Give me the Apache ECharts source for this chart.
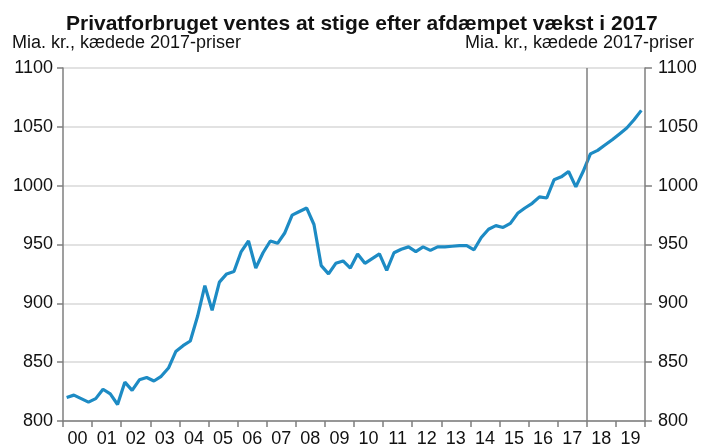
<!DOCTYPE html>
<html>
<head>
<meta charset="utf-8">
<script src="https://cdn.jsdelivr.net/npm/echarts@6/dist/echarts.min.js"></script>
<style>
  html, body { margin: 0; padding: 0; background: #fff; }
  #chart { width: 701px; height: 448px; }
</style>
</head>
<body>
<div id="chart"></div>
<script>
// aar (x-akse labels)
const years = ['00','01','02','03','04','05','06','07','08','09','10','11','12','13','14','15','16','17','18','19']

// privatforbrug pr. kvartal, mia. kr. (2000K1 - 2019K4), 4 tal pr. aar
const forbrug2000_2004 = [820, 822, 819, 816,  819, 827, 823, 814,  833, 826, 835, 837,  834, 838, 845, 859,  864, 868, 889, 915]
const forbrug2005_2009 = [894, 918, 925, 927,  944, 953, 930, 943,  953, 951, 960, 975,  978, 981, 967, 932,  925, 934, 936, 930]
const forbrug2010_2014 = [942, 934, 938, 942,  928, 943, 946, 948,  944, 948, 945, 948,  948, 948.5, 949, 949,  945.5, 956, 963, 966]
const forbrug2015_2019 = [964.5, 968, 976.5, 981,  985, 990.5, 989.5, 1005,  1007.5, 1012, 999, 1012,  1027, 1030, 1034.5, 1039,  1044, 1049, 1056, 1064]

const yTicks = [800, 850, 900, 950, 1000, 1050, 1100]
const prognoseStart = 18 // lodret streg ved 2018

const unitText = 'Mia. kr., kædede 2017-priser'
const titleText = 'Privatforbruget ventes at stige efter afdæmpet vækst i 2017'

const forbrug = forbrug2000_2004.concat(forbrug2005_2009, forbrug2010_2014, forbrug2015_2019)

// kvartal i placeres midt i sit kvartal paa aars-aksen
let seriesData = forbrug.map((v, i) => [Math.floor(i / 4) + ((i % 4) + 0.5) / 4, v])

const axisGray = '#7f7f7f'
const font = 'Liberation Sans, Arial, sans-serif'

let chart = echarts.init(document.getElementById('chart'), null, { renderer: 'canvas' })

let option = {
  animation: false,
  textStyle: { fontFamily: font },
  title: [
    {
      text: titleText,
      left: 61,
      top: 9,
      textStyle: { fontSize: 21, fontWeight: 'bold', color: '#111', fontFamily: font }
    },
    {
      text: unitText,
      left: 7,
      top: 29,
      textStyle: { fontSize: 18, fontWeight: 'normal', color: '#111', fontFamily: font }
    },
    {
      text: unitText,
      right: 2,
      top: 29,
      textStyle: { fontSize: 18, fontWeight: 'normal', color: '#111', fontFamily: font }
    }
  ],
  grid: {
    left: 63,
    right: 55,
    top: 68,
    bottom: 23,
    containLabel: false
  },
  xAxis: [
    {
      type: 'value',
      min: 0,
      max: 20,
      interval: 1,
      position: 'bottom',
      axisLine: { show: true, lineStyle: { color: axisGray, width: 1.5 } },
      axisTick: { show: true, length: 6, lineStyle: { color: axisGray, width: 1.5 } },
      axisLabel: { show: false },
      splitLine: { show: false }
    },
    {
      type: 'category',
      data: years,
      position: 'bottom',
      boundaryGap: true,
      axisLine: { show: false },
      axisTick: { show: false },
      axisLabel: {
        interval: 0,
        margin: 9,
        fontSize: 18,
        color: '#111',
        fontFamily: font
      },
      splitLine: { show: false }
    }
  ],
  yAxis: [
    {
      type: 'value',
      position: 'left',
      min: yTicks[0],
      max: yTicks[yTicks.length - 1],
      interval: 50,
      axisLine: { show: true, lineStyle: { color: axisGray, width: 1.5 } },
      axisTick: { show: true, length: 6, lineStyle: { color: axisGray, width: 1.5 } },
      axisLabel: { margin: 10, fontSize: 18, color: '#111', fontFamily: font, formatter: v => String(v) },
      splitLine: { show: true, lineStyle: { color: '#d9d9d9', width: 1.5 } }
    },
    {
      type: 'value',
      position: 'right',
      min: yTicks[0],
      max: yTicks[yTicks.length - 1],
      interval: 50,
      axisLine: { show: true, lineStyle: { color: axisGray, width: 1.5 } },
      axisTick: { show: true, length: 7, lineStyle: { color: axisGray, width: 1.5 } },
      axisLabel: { margin: 13, fontSize: 18, color: '#111', fontFamily: font, formatter: v => String(v) },
      splitLine: { show: false }
    }
  ],
  series: [
    {
      name: 'Privatforbrug',
      type: 'line',
      xAxisIndex: 0,
      yAxisIndex: 0,
      data: seriesData,
      symbol: 'none',
      smooth: false,
      lineStyle: { color: '#1d8bc4', width: 3.2 },
      markLine: {
        silent: true,
        symbol: 'none',
        label: { show: false },
        lineStyle: { color: axisGray, width: 1.5, type: 'solid' },
        data: [{ xAxis: prognoseStart }]
      }
    }
  ]
}

chart.setOption(option)
</script>
</body>
</html>
